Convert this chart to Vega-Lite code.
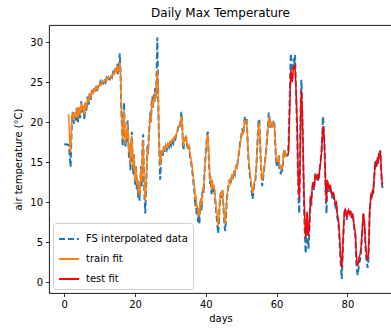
{
  "$schema": "https://vega.github.io/schema/vega-lite/v6.json",
  "autosize": "none",
  "width": 343,
  "height": 268,
  "padding": {"left": 49, "top": 25, "right": 0, "bottom": 35},
  "background": "white",
  "title": {"text": "Daily Max Temperature", "fontSize": 12, "fontWeight": "normal", "font": "DejaVu Sans", "color": "#000", "offset": 5},
  "config": {
    "font": "DejaVu Sans",
    "view": {"stroke": "#000", "strokeWidth": 0.9},
    "axis": {"grid": false, "domain": false, "tickColor": "#000", "tickSize": 3.5, "tickWidth": 0.8, "labelFontSize": 10, "labelColor": "#000", "titleFontSize": 10, "titleFontWeight": "normal", "titleColor": "#000", "labelPadding": 3},
    "legend": {"orient": "bottom-left", "offset": 4, "strokeColor": "#d0d0d0", "fillColor": "white", "padding": 5, "cornerRadius": 3, "symbolType": "stroke", "symbolSize": 400, "symbolStrokeWidth": 2, "labelFontSize": 10, "labelColor": "#000", "rowPadding": 4, "labelOffset": 6}
  },
  "datasets": {
    "fs": [
      {"d":0.0,"t":17.3},{"d":0.5,"t":17.2},{"d":1.0,"t":17.2},{"d":1.3,"t":17.1},{"d":1.6,"t":15.5},{"d":1.8,"t":14.4},{"d":2.0,"t":17.5},{"d":2.2,"t":20.5},{"d":2.4,"t":21.3},{"d":2.7,"t":19.8},{"d":3.0,"t":21.0},{"d":3.3,"t":20.2},{"d":3.6,"t":22.0},{"d":3.9,"t":20.0},{"d":4.2,"t":21.8},{"d":4.5,"t":20.5},{"d":4.8,"t":22.6},{"d":5.1,"t":21.2},{"d":5.4,"t":22.0},{"d":5.7,"t":20.3},{"d":6.0,"t":22.5},{"d":6.3,"t":21.4},{"d":6.6,"t":23.2},{"d":6.9,"t":22.2},{"d":7.2,"t":23.6},{"d":7.5,"t":22.8},{"d":7.8,"t":24.0},{"d":8.1,"t":23.4},{"d":8.4,"t":24.2},{"d":8.7,"t":23.8},{"d":9.0,"t":24.5},{"d":9.3,"t":23.9},{"d":9.6,"t":24.6},{"d":9.9,"t":24.4},{"d":10.2,"t":25.0},{"d":10.5,"t":24.6},{"d":10.8,"t":25.1},{"d":11.1,"t":24.9},{"d":11.4,"t":25.3},{"d":11.7,"t":25.0},{"d":12.0,"t":25.5},{"d":12.3,"t":25.2},{"d":12.6,"t":25.6},{"d":12.9,"t":25.4},{"d":13.2,"t":25.8},{"d":13.5,"t":25.6},{"d":13.8,"t":26.2},{"d":14.1,"t":25.9},{"d":14.4,"t":26.8},{"d":14.7,"t":26.3},{"d":15.0,"t":27.3},{"d":15.2,"t":26.0},{"d":15.5,"t":27.0},{"d":15.7,"t":28.6},{"d":15.9,"t":26.5},{"d":16.1,"t":22.0},{"d":16.3,"t":19.5},{"d":16.5,"t":17.0},{"d":16.7,"t":19.8},{"d":16.9,"t":22.5},{"d":17.1,"t":18.5},{"d":17.3,"t":16.8},{"d":17.5,"t":19.0},{"d":17.7,"t":17.5},{"d":17.9,"t":20.2},{"d":18.1,"t":18.0},{"d":18.3,"t":15.5},{"d":18.5,"t":17.2},{"d":18.7,"t":14.0},{"d":18.9,"t":16.5},{"d":19.1,"t":18.8},{"d":19.3,"t":15.8},{"d":19.5,"t":13.5},{"d":19.7,"t":16.0},{"d":19.9,"t":13.0},{"d":20.1,"t":12.0},{"d":20.3,"t":14.5},{"d":20.5,"t":11.5},{"d":20.7,"t":12.8},{"d":20.9,"t":10.5},{"d":21.1,"t":11.8},{"d":21.3,"t":10.2},{"d":21.5,"t":12.5},{"d":21.7,"t":14.5},{"d":21.9,"t":12.0},{"d":22.1,"t":16.8},{"d":22.3,"t":18.5},{"d":22.5,"t":13.5},{"d":22.7,"t":10.5},{"d":22.9,"t":8.6},{"d":23.1,"t":11.5},{"d":23.3,"t":14.0},{"d":23.5,"t":17.0},{"d":23.7,"t":16.0},{"d":23.9,"t":18.5},{"d":24.1,"t":19.5},{"d":24.3,"t":21.2},{"d":24.5,"t":20.0},{"d":24.7,"t":22.5},{"d":24.9,"t":23.2},{"d":25.1,"t":21.8},{"d":25.3,"t":23.6},{"d":25.5,"t":22.5},{"d":25.7,"t":24.3},{"d":25.9,"t":23.0},{"d":26.1,"t":26.0},{"d":26.3,"t":30.6},{"d":26.5,"t":25.0},{"d":26.7,"t":19.0},{"d":26.9,"t":15.5},{"d":27.1,"t":12.8},{"d":27.3,"t":14.5},{"d":27.5,"t":16.5},{"d":27.8,"t":15.8},{"d":28.1,"t":16.8},{"d":28.4,"t":16.3},{"d":28.7,"t":17.0},{"d":29.0,"t":16.6},{"d":29.3,"t":17.2},{"d":29.6,"t":16.9},{"d":29.9,"t":17.5},{"d":30.2,"t":17.1},{"d":30.5,"t":17.8},{"d":30.8,"t":17.4},{"d":31.1,"t":18.1},{"d":31.4,"t":17.9},{"d":31.7,"t":18.6},{"d":32.0,"t":18.9},{"d":32.3,"t":19.6},{"d":32.6,"t":19.4},{"d":32.9,"t":20.3},{"d":33.1,"t":21.3},{"d":33.3,"t":20.2},{"d":33.5,"t":17.5},{"d":33.7,"t":16.5},{"d":33.9,"t":18.0},{"d":34.1,"t":17.6},{"d":34.4,"t":18.3},{"d":34.7,"t":17.2},{"d":35.0,"t":16.5},{"d":35.3,"t":17.0},{"d":35.6,"t":15.5},{"d":35.9,"t":14.8},{"d":36.2,"t":13.8},{"d":36.5,"t":12.5},{"d":36.8,"t":11.2},{"d":37.0,"t":9.5},{"d":37.2,"t":10.5},{"d":37.4,"t":8.5},{"d":37.6,"t":9.0},{"d":37.8,"t":7.5},{"d":38.0,"t":8.8},{"d":38.2,"t":7.3},{"d":38.4,"t":9.6},{"d":38.6,"t":10.2},{"d":38.8,"t":9.0},{"d":39.0,"t":11.0},{"d":39.2,"t":11.8},{"d":39.4,"t":11.2},{"d":39.6,"t":13.5},{"d":39.8,"t":14.8},{"d":40.0,"t":16.5},{"d":40.2,"t":17.5},{"d":40.4,"t":18.6},{"d":40.6,"t":18.8},{"d":40.8,"t":16.0},{"d":41.0,"t":14.0},{"d":41.2,"t":12.3},{"d":41.4,"t":12.9},{"d":41.6,"t":11.0},{"d":41.8,"t":12.5},{"d":42.0,"t":11.2},{"d":42.3,"t":12.0},{"d":42.6,"t":10.5},{"d":42.9,"t":9.0},{"d":43.1,"t":8.0},{"d":43.3,"t":7.0},{"d":43.5,"t":6.1},{"d":43.7,"t":7.5},{"d":43.9,"t":9.5},{"d":44.1,"t":10.8},{"d":44.3,"t":11.2},{"d":44.5,"t":10.5},{"d":44.7,"t":11.5},{"d":44.9,"t":10.0},{"d":45.1,"t":8.5},{"d":45.3,"t":7.0},{"d":45.5,"t":6.4},{"d":45.7,"t":8.0},{"d":45.9,"t":10.0},{"d":46.1,"t":11.0},{"d":46.4,"t":12.0},{"d":46.7,"t":12.8},{"d":47.0,"t":12.2},{"d":47.3,"t":13.3},{"d":47.6,"t":12.9},{"d":47.9,"t":13.8},{"d":48.2,"t":13.5},{"d":48.5,"t":14.6},{"d":48.8,"t":14.2},{"d":49.1,"t":15.4},{"d":49.4,"t":16.3},{"d":49.7,"t":17.5},{"d":50.0,"t":18.2},{"d":50.3,"t":19.2},{"d":50.6,"t":18.5},{"d":50.9,"t":20.2},{"d":51.1,"t":20.7},{"d":51.3,"t":19.8},{"d":51.5,"t":20.4},{"d":51.7,"t":18.9},{"d":51.9,"t":16.5},{"d":52.1,"t":15.0},{"d":52.4,"t":13.6},{"d":52.7,"t":12.5},{"d":53.0,"t":11.2},{"d":53.2,"t":10.4},{"d":53.4,"t":11.0},{"d":53.7,"t":12.3},{"d":54.0,"t":12.8},{"d":54.3,"t":14.5},{"d":54.5,"t":16.5},{"d":54.7,"t":18.5},{"d":54.9,"t":20.1},{"d":55.1,"t":20.4},{"d":55.3,"t":18.0},{"d":55.5,"t":15.5},{"d":55.7,"t":13.5},{"d":55.9,"t":12.0},{"d":56.1,"t":12.6},{"d":56.4,"t":13.8},{"d":56.7,"t":15.0},{"d":57.0,"t":16.2},{"d":57.3,"t":18.0},{"d":57.6,"t":19.8},{"d":57.8,"t":21.2},{"d":58.0,"t":20.5},{"d":58.2,"t":19.3},{"d":58.5,"t":20.0},{"d":58.8,"t":19.4},{"d":59.1,"t":20.0},{"d":59.4,"t":19.8},{"d":59.6,"t":17.5},{"d":59.8,"t":15.5},{"d":60.0,"t":14.5},{"d":60.2,"t":15.2},{"d":60.4,"t":14.6},{"d":60.6,"t":15.8},{"d":60.8,"t":14.2},{"d":61.0,"t":13.8},{"d":61.2,"t":13.5},{"d":61.4,"t":14.3},{"d":61.6,"t":13.8},{"d":61.8,"t":15.0},{"d":62.0,"t":16.2},{"d":62.2,"t":16.6},{"d":62.4,"t":15.6},{"d":62.6,"t":16.0},{"d":62.9,"t":15.8},{"d":63.2,"t":15.9},{"d":63.4,"t":17.5},{"d":63.6,"t":21.0},{"d":63.8,"t":25.0},{"d":64.0,"t":28.6},{"d":64.2,"t":26.5},{"d":64.4,"t":25.2},{"d":64.6,"t":26.5},{"d":64.8,"t":28.0},{"d":65.0,"t":27.2},{"d":65.2,"t":28.4},{"d":65.4,"t":25.5},{"d":65.6,"t":22.0},{"d":65.8,"t":19.0},{"d":66.0,"t":14.0},{"d":66.2,"t":10.5},{"d":66.4,"t":8.6},{"d":66.6,"t":14.0},{"d":66.8,"t":22.0},{"d":67.0,"t":25.3},{"d":67.2,"t":22.5},{"d":67.4,"t":18.0},{"d":67.6,"t":13.0},{"d":67.8,"t":8.5},{"d":68.0,"t":6.0},{"d":68.2,"t":3.6},{"d":68.4,"t":5.0},{"d":68.6,"t":8.5},{"d":68.8,"t":6.5},{"d":69.0,"t":4.2},{"d":69.2,"t":5.7},{"d":69.4,"t":8.0},{"d":69.6,"t":10.8},{"d":69.8,"t":9.5},{"d":70.0,"t":11.3},{"d":70.3,"t":12.5},{"d":70.6,"t":11.5},{"d":70.9,"t":13.6},{"d":71.2,"t":12.8},{"d":71.5,"t":13.5},{"d":71.8,"t":12.6},{"d":72.1,"t":13.8},{"d":72.4,"t":15.0},{"d":72.7,"t":16.5},{"d":72.9,"t":18.5},{"d":73.1,"t":20.7},{"d":73.3,"t":19.5},{"d":73.5,"t":17.6},{"d":73.7,"t":14.0},{"d":73.9,"t":10.5},{"d":74.1,"t":8.6},{"d":74.3,"t":12.5},{"d":74.5,"t":12.0},{"d":74.8,"t":11.3},{"d":75.1,"t":12.0},{"d":75.4,"t":11.2},{"d":75.7,"t":10.5},{"d":76.0,"t":11.2},{"d":76.3,"t":10.3},{"d":76.6,"t":9.5},{"d":76.9,"t":9.8},{"d":77.1,"t":8.2},{"d":77.4,"t":7.5},{"d":77.6,"t":6.5},{"d":77.8,"t":5.0},{"d":78.0,"t":3.0},{"d":78.2,"t":1.8},{"d":78.4,"t":0.4},{"d":78.6,"t":2.5},{"d":78.8,"t":5.0},{"d":79.0,"t":7.4},{"d":79.2,"t":8.8},{"d":79.4,"t":9.2},{"d":79.6,"t":8.5},{"d":79.8,"t":7.8},{"d":80.0,"t":8.5},{"d":80.3,"t":9.0},{"d":80.6,"t":8.3},{"d":80.9,"t":8.9},{"d":81.2,"t":8.0},{"d":81.5,"t":8.6},{"d":81.8,"t":7.2},{"d":82.0,"t":6.4},{"d":82.3,"t":5.5},{"d":82.5,"t":2.5},{"d":82.7,"t":1.5},{"d":82.9,"t":0.9},{"d":83.1,"t":1.5},{"d":83.3,"t":2.3},{"d":83.6,"t":2.8},{"d":83.9,"t":4.0},{"d":84.1,"t":5.5},{"d":84.3,"t":7.0},{"d":84.5,"t":8.5},{"d":84.7,"t":7.8},{"d":84.9,"t":6.5},{"d":85.1,"t":4.5},{"d":85.3,"t":3.0},{"d":85.5,"t":2.6},{"d":85.7,"t":1.8},{"d":85.9,"t":2.5},{"d":86.1,"t":5.0},{"d":86.3,"t":9.0},{"d":86.5,"t":10.0},{"d":86.7,"t":11.0},{"d":86.9,"t":10.6},{"d":87.1,"t":11.5},{"d":87.3,"t":11.0},{"d":87.5,"t":12.5},{"d":87.7,"t":14.0},{"d":87.9,"t":15.2},{"d":88.1,"t":14.3},{"d":88.3,"t":14.6},{"d":88.5,"t":15.5},{"d":88.7,"t":14.8},{"d":88.9,"t":16.0},{"d":89.1,"t":15.8},{"d":89.3,"t":16.5},{"d":89.5,"t":14.5},{"d":89.7,"t":12.5},{"d":89.9,"t":11.8},{"d":90.0,"t":12.2}
    ],
    "train": [
      {"d":1.2,"t":21.0},{"d":1.4,"t":19.5},{"d":1.6,"t":17.0},{"d":1.8,"t":16.2},{"d":2.0,"t":18.5},{"d":2.2,"t":20.8},{"d":2.4,"t":21.2},{"d":2.7,"t":20.3},{"d":3.0,"t":21.2},{"d":3.3,"t":20.6},{"d":3.6,"t":21.8},{"d":3.9,"t":20.5},{"d":4.2,"t":21.9},{"d":4.5,"t":20.9},{"d":4.8,"t":22.4},{"d":5.1,"t":21.5},{"d":5.4,"t":22.1},{"d":5.7,"t":20.9},{"d":6.0,"t":22.4},{"d":6.3,"t":21.8},{"d":6.6,"t":23.0},{"d":6.9,"t":22.5},{"d":7.2,"t":23.5},{"d":7.5,"t":23.0},{"d":7.8,"t":23.9},{"d":8.1,"t":23.6},{"d":8.4,"t":24.1},{"d":8.7,"t":23.9},{"d":9.0,"t":24.4},{"d":9.3,"t":24.1},{"d":9.6,"t":24.6},{"d":9.9,"t":24.5},{"d":10.2,"t":24.9},{"d":10.5,"t":24.7},{"d":10.8,"t":25.1},{"d":11.1,"t":25.0},{"d":11.4,"t":25.3},{"d":11.7,"t":25.1},{"d":12.0,"t":25.4},{"d":12.3,"t":25.3},{"d":12.6,"t":25.6},{"d":12.9,"t":25.5},{"d":13.2,"t":25.8},{"d":13.5,"t":25.7},{"d":13.8,"t":26.1},{"d":14.1,"t":26.0},{"d":14.4,"t":26.6},{"d":14.7,"t":26.3},{"d":15.0,"t":27.0},{"d":15.2,"t":26.2},{"d":15.5,"t":26.8},{"d":15.7,"t":27.5},{"d":15.9,"t":26.3},{"d":16.1,"t":22.5},{"d":16.3,"t":20.0},{"d":16.5,"t":17.8},{"d":16.7,"t":19.5},{"d":16.9,"t":21.5},{"d":17.1,"t":18.8},{"d":17.3,"t":17.3},{"d":17.5,"t":19.0},{"d":17.7,"t":17.9},{"d":17.9,"t":19.8},{"d":18.1,"t":18.2},{"d":18.3,"t":16.2},{"d":18.5,"t":17.3},{"d":18.7,"t":14.8},{"d":18.9,"t":16.6},{"d":19.1,"t":18.3},{"d":19.3,"t":16.0},{"d":19.5,"t":14.2},{"d":19.7,"t":16.0},{"d":19.9,"t":13.6},{"d":20.1,"t":12.6},{"d":20.3,"t":14.5},{"d":20.5,"t":12.2},{"d":20.7,"t":13.0},{"d":20.9,"t":11.2},{"d":21.1,"t":12.0},{"d":21.3,"t":10.8},{"d":21.5,"t":12.5},{"d":21.7,"t":14.2},{"d":21.9,"t":12.6},{"d":22.1,"t":16.2},{"d":22.3,"t":17.8},{"d":22.5,"t":14.0},{"d":22.7,"t":11.5},{"d":22.9,"t":10.2},{"d":23.1,"t":12.0},{"d":23.3,"t":14.2},{"d":23.5,"t":16.8},{"d":23.7,"t":16.2},{"d":23.9,"t":18.3},{"d":24.1,"t":19.3},{"d":24.3,"t":20.8},{"d":24.5,"t":20.0},{"d":24.7,"t":22.0},{"d":24.9,"t":22.8},{"d":25.1,"t":21.8},{"d":25.3,"t":23.2},{"d":25.5,"t":22.5},{"d":25.7,"t":23.8},{"d":25.9,"t":23.0},{"d":26.1,"t":25.0},{"d":26.3,"t":26.5},{"d":26.5,"t":24.5},{"d":26.7,"t":19.5},{"d":26.9,"t":16.5},{"d":27.1,"t":14.5},{"d":27.3,"t":15.2},{"d":27.5,"t":16.5},{"d":27.8,"t":16.2},{"d":28.1,"t":16.9},{"d":28.4,"t":16.6},{"d":28.7,"t":17.1},{"d":29.0,"t":16.9},{"d":29.3,"t":17.3},{"d":29.6,"t":17.1},{"d":29.9,"t":17.6},{"d":30.2,"t":17.4},{"d":30.5,"t":17.9},{"d":30.8,"t":17.7},{"d":31.1,"t":18.2},{"d":31.4,"t":18.1},{"d":31.7,"t":18.6},{"d":32.0,"t":18.9},{"d":32.3,"t":19.5},{"d":32.6,"t":19.4},{"d":32.9,"t":20.1},{"d":33.1,"t":20.8},{"d":33.3,"t":20.2},{"d":33.5,"t":18.0},{"d":33.7,"t":17.0},{"d":33.9,"t":18.1},{"d":34.1,"t":17.8},{"d":34.4,"t":18.3},{"d":34.7,"t":17.4},{"d":35.0,"t":16.8},{"d":35.3,"t":17.1},{"d":35.6,"t":15.9},{"d":35.9,"t":15.2},{"d":36.2,"t":14.2},{"d":36.5,"t":13.0},{"d":36.8,"t":11.8},{"d":37.0,"t":10.3},{"d":37.2,"t":10.9},{"d":37.4,"t":9.3},{"d":37.6,"t":9.6},{"d":37.8,"t":8.4},{"d":38.0,"t":9.3},{"d":38.2,"t":8.2},{"d":38.4,"t":9.9},{"d":38.6,"t":10.5},{"d":38.8,"t":9.6},{"d":39.0,"t":11.2},{"d":39.2,"t":11.9},{"d":39.4,"t":11.5},{"d":39.6,"t":13.4},{"d":39.8,"t":14.7},{"d":40.0,"t":16.2},{"d":40.2,"t":17.2},{"d":40.4,"t":18.3},{"d":40.6,"t":18.5},{"d":40.8,"t":16.2},{"d":41.0,"t":14.5},{"d":41.2,"t":12.8},{"d":41.4,"t":13.2},{"d":41.6,"t":11.6},{"d":41.8,"t":12.8},{"d":42.0,"t":11.7},{"d":42.3,"t":12.2},{"d":42.6,"t":10.9},{"d":42.9,"t":9.6},{"d":43.1,"t":8.7},{"d":43.3,"t":7.8},{"d":43.5,"t":7.0},{"d":43.7,"t":8.1},{"d":43.9,"t":9.8},{"d":44.1,"t":10.9},{"d":44.3,"t":11.3},{"d":44.5,"t":10.8},{"d":44.7,"t":11.5},{"d":44.9,"t":10.3},{"d":45.1,"t":9.0},{"d":45.3,"t":7.8},{"d":45.5,"t":7.3},{"d":45.7,"t":8.5},{"d":45.9,"t":10.1},{"d":46.1,"t":11.1},{"d":46.4,"t":12.0},{"d":46.7,"t":12.7},{"d":47.0,"t":12.4},{"d":47.3,"t":13.3},{"d":47.6,"t":13.0},{"d":47.9,"t":13.8},{"d":48.2,"t":13.6},{"d":48.5,"t":14.5},{"d":48.8,"t":14.3},{"d":49.1,"t":15.3},{"d":49.4,"t":16.2},{"d":49.7,"t":17.3},{"d":50.0,"t":18.0},{"d":50.3,"t":18.9},{"d":50.6,"t":18.5},{"d":50.9,"t":19.9},{"d":51.1,"t":20.3},{"d":51.3,"t":19.7},{"d":51.5,"t":20.1},{"d":51.7,"t":18.9},{"d":51.9,"t":16.9},{"d":52.1,"t":15.5},{"d":52.4,"t":14.1},{"d":52.7,"t":13.0},{"d":53.0,"t":11.8},{"d":53.2,"t":11.1},{"d":53.4,"t":11.5},{"d":53.7,"t":12.5},{"d":54.0,"t":13.0},{"d":54.3,"t":14.6},{"d":54.5,"t":16.3},{"d":54.7,"t":18.2},{"d":54.9,"t":19.6},{"d":55.1,"t":19.9},{"d":55.3,"t":17.9},{"d":55.5,"t":15.8},{"d":55.7,"t":14.0},{"d":55.9,"t":12.7},{"d":56.1,"t":13.0},{"d":56.4,"t":14.0},{"d":56.7,"t":15.1},{"d":57.0,"t":16.2},{"d":57.3,"t":17.9},{"d":57.6,"t":19.5},{"d":57.8,"t":20.7},{"d":58.0,"t":20.3},{"d":58.2,"t":19.4},{"d":58.5,"t":19.9},{"d":58.8,"t":19.5},{"d":59.1,"t":19.9},{"d":59.4,"t":19.7},{"d":59.6,"t":17.8},{"d":59.8,"t":16.0},{"d":60.0,"t":15.0},{"d":60.2,"t":15.4},{"d":60.4,"t":15.0},{"d":60.6,"t":15.9},{"d":60.8,"t":14.7},{"d":61.0,"t":14.3},{"d":61.2,"t":14.1},{"d":61.4,"t":14.6},{"d":61.6,"t":14.3},{"d":61.8,"t":15.2},{"d":62.0,"t":16.2},{"d":62.2,"t":16.5},{"d":62.4,"t":15.8},{"d":62.6,"t":16.0},{"d":62.9,"t":15.9},{"d":63.2,"t":15.9}
    ],
    "test": [
      {"d":63.2,"t":15.9},{"d":63.4,"t":16.5},{"d":63.6,"t":20.0},{"d":63.8,"t":23.5},{"d":64.0,"t":26.5},{"d":64.2,"t":26.0},{"d":64.4,"t":25.0},{"d":64.6,"t":26.0},{"d":64.8,"t":27.0},{"d":65.0,"t":26.8},{"d":65.2,"t":27.2},{"d":65.4,"t":25.0},{"d":65.6,"t":22.5},{"d":65.8,"t":20.0},{"d":66.0,"t":15.5},{"d":66.2,"t":12.0},{"d":66.4,"t":10.5},{"d":66.6,"t":14.5},{"d":66.8,"t":21.0},{"d":67.0,"t":24.0},{"d":67.2,"t":22.0},{"d":67.4,"t":18.5},{"d":67.6,"t":14.0},{"d":67.8,"t":10.0},{"d":68.0,"t":7.5},{"d":68.2,"t":5.5},{"d":68.4,"t":6.2},{"d":68.6,"t":8.8},{"d":68.8,"t":7.3},{"d":69.0,"t":5.8},{"d":69.2,"t":6.8},{"d":69.4,"t":8.6},{"d":69.6,"t":10.8},{"d":69.8,"t":10.0},{"d":70.0,"t":11.5},{"d":70.3,"t":12.5},{"d":70.6,"t":11.9},{"d":70.9,"t":13.4},{"d":71.2,"t":12.9},{"d":71.5,"t":13.5},{"d":71.8,"t":12.8},{"d":72.1,"t":13.8},{"d":72.4,"t":14.9},{"d":72.7,"t":16.2},{"d":72.9,"t":18.0},{"d":73.1,"t":19.5},{"d":73.3,"t":19.0},{"d":73.5,"t":17.3},{"d":73.7,"t":14.5},{"d":73.9,"t":11.5},{"d":74.1,"t":10.0},{"d":74.3,"t":12.8},{"d":74.5,"t":12.4},{"d":74.8,"t":11.6},{"d":75.1,"t":12.2},{"d":75.4,"t":11.5},{"d":75.7,"t":10.8},{"d":76.0,"t":11.3},{"d":76.3,"t":10.5},{"d":76.6,"t":9.8},{"d":76.9,"t":10.0},{"d":77.1,"t":8.6},{"d":77.4,"t":8.0},{"d":77.6,"t":7.2},{"d":77.8,"t":5.8},{"d":78.0,"t":4.0},{"d":78.2,"t":2.8},{"d":78.4,"t":1.8},{"d":78.6,"t":3.2},{"d":78.8,"t":5.5},{"d":79.0,"t":7.6},{"d":79.2,"t":8.9},{"d":79.4,"t":9.1},{"d":79.6,"t":8.6},{"d":79.8,"t":8.1},{"d":80.0,"t":8.6},{"d":80.3,"t":9.0},{"d":80.6,"t":8.5},{"d":80.9,"t":8.9},{"d":81.2,"t":8.1},{"d":81.5,"t":8.6},{"d":81.8,"t":7.5},{"d":82.0,"t":6.8},{"d":82.3,"t":5.9},{"d":82.5,"t":3.5},{"d":82.7,"t":2.6},{"d":82.9,"t":2.0},{"d":83.1,"t":2.4},{"d":83.3,"t":3.1},{"d":83.6,"t":3.5},{"d":83.9,"t":4.6},{"d":84.1,"t":5.9},{"d":84.3,"t":7.3},{"d":84.5,"t":8.6},{"d":84.7,"t":8.0},{"d":84.9,"t":6.9},{"d":85.1,"t":5.0},{"d":85.3,"t":3.8},{"d":85.5,"t":3.2},{"d":85.7,"t":2.8},{"d":85.9,"t":3.3},{"d":86.1,"t":5.5},{"d":86.3,"t":9.0},{"d":86.5,"t":10.0},{"d":86.7,"t":10.9},{"d":86.9,"t":10.7},{"d":87.1,"t":11.4},{"d":87.3,"t":11.2},{"d":87.5,"t":12.6},{"d":87.7,"t":13.9},{"d":87.9,"t":15.0},{"d":88.1,"t":14.4},{"d":88.3,"t":14.8},{"d":88.5,"t":15.6},{"d":88.7,"t":15.0},{"d":88.9,"t":16.0},{"d":89.1,"t":15.9},{"d":89.3,"t":16.4},{"d":89.5,"t":14.8},{"d":89.7,"t":13.0},{"d":89.9,"t":12.3},{"d":90.0,"t":12.4}
    ]
  },
  "encoding": {
    "x": {"field": "d", "type": "quantitative", "title": "days", "scale": {"domain": [-4.3, 92.6], "nice": false, "zero": false}, "axis": {"values": [0, 20, 40, 60, 80], "titlePadding": 4}},
    "y": {"field": "t", "type": "quantitative", "title": "air temperature (°C)", "scale": {"domain": [-1.35, 32.15], "nice": false, "zero": false}, "axis": {"values": [0, 5, 10, 15, 20, 25, 30], "titlePadding": 6}}
  },
  "layer": [
    {
      "data": {"name": "fs"},
      "mark": {"type": "line", "strokeWidth": 2},
      "encoding": {
        "color": {"datum": "FS interpolated data", "title": null, "scale": {"domain": ["FS interpolated data", "train fit", "test fit"], "range": ["#1f77b4", "#ff7f0e", "#ff0000"]}},
        "strokeDash": {"datum": "FS interpolated data", "title": null, "scale": {"domain": ["FS interpolated data", "train fit", "test fit"], "range": [[6, 3], [1, 0], [1, 0]]}}
      }
    },
    {
      "data": {"name": "train"},
      "mark": {"type": "line", "strokeWidth": 1.5},
      "encoding": {
        "color": {"datum": "train fit", "title": null},
        "strokeDash": {"datum": "train fit", "title": null}
      }
    },
    {
      "data": {"name": "test"},
      "mark": {"type": "line", "strokeWidth": 1.5},
      "encoding": {
        "color": {"datum": "test fit", "title": null},
        "strokeDash": {"datum": "test fit", "title": null}
      }
    }
  ]
}
